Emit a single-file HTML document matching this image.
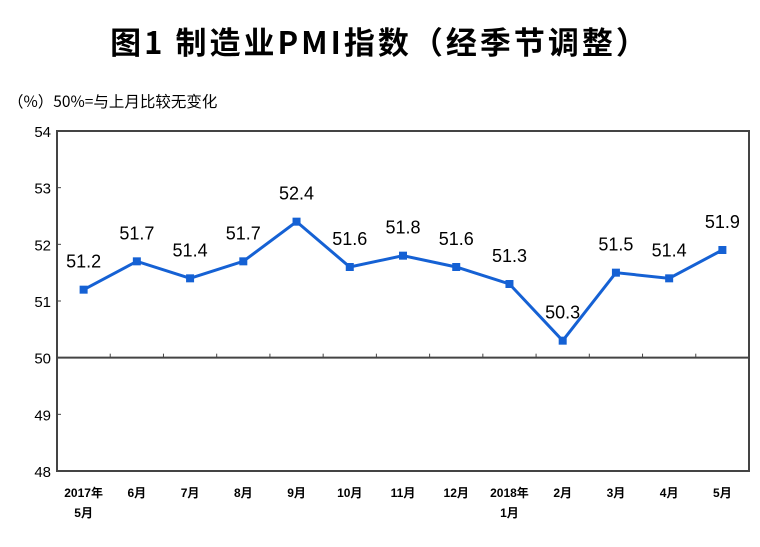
<!DOCTYPE html>
<html><head><meta charset="utf-8"><style>
body{margin:0;background:#fff;}
svg text{font-family:"Liberation Sans","Noto Sans CJK SC",sans-serif;}
</style></head><body>
<svg width="760" height="542">
<text x="380" y="54" text-anchor="middle" font-size="31" font-weight="bold" letter-spacing="3" fill="#000" style="font-family:'Noto Sans CJK SC',sans-serif">图1 制造业PMI指数（经季节调整）</text>
<text x="8" y="107" font-size="15.5" fill="#000" style="font-family:'Noto Sans CJK SC',sans-serif">（%）50%=与上月比较无变化</text>
<g id="axes"></g>
<g id="series"></g>
</svg>
<script>
const categories=["2017年|5月","6月","7月","8月","9月","10月","11月","12月","2018年|1月","2月","3月","4月","5月"];
const values=[51.2,51.7,51.4,51.7,52.4,51.6,51.8,51.6,51.3,50.3,51.5,51.4,51.9];
const yTicks=[48,49,50,51,52,53,54];
const NS="http://www.w3.org/2000/svg";
const L=57,R=749,T=131,B=471,band=(R-L)/categories.length;
const x=i=>L+band*(i+0.5);
const y=v=>T+(54-v)*(B-T)/6;
function mk(tag,attrs,parent){const e=document.createElementNS(NS,tag);for(const k in attrs)e.setAttribute(k,attrs[k]);parent.appendChild(e);return e;}
const ax=document.getElementById('axes'),se=document.getElementById('series');
let f=mk('rect',{x:L,y:T,width:R-L,height:B-T,fill:'none',stroke:'#444','stroke-width':2},ax);


let zl=mk('line',{x1:L,x2:R,y1:y(50),y2:y(50),stroke:'#444','stroke-width':2},ax);


yTicks.forEach(t=>{
 const tl=mk('line',{x1:L,x2:L+4,y1:y(t),y2:y(t),stroke:'#444','stroke-width':1},ax);
 
 
 const tx=mk('text',{x:L-6,y:y(t)+6,'text-anchor':'end','font-size':15,fill:'#000'},ax);
 tx.textContent=t;
 
 
});
categories.forEach((c,i)=>{
 if(i>0){const tk=mk('line',{x1:L+band*i,x2:L+band*i,y1:y(50)-4,y2:y(50),stroke:'#444','stroke-width':1},ax);
 
 }
 c.split('|').forEach((p,j)=>{
  const tx=mk('text',{x:x(i),y:497+j*20,'text-anchor':'middle','font-size':12,'font-weight':'bold',fill:'#000'},ax);
  tx.textContent=p;
  
  
 });
});
const ln=mk('polyline',{points:values.map((v,i)=>x(i)+','+y(v)).join(' '),fill:'none',stroke:'#1561d4','stroke-width':3},se);


values.forEach((v,i)=>{
 const m=mk('rect',{x:x(i)-4,y:y(v)-4,width:8,height:8,fill:'#1561d4'},se);
 
 
 const t=mk('text',{x:x(i),y:y(v)-22,'text-anchor':'middle','font-size':18,fill:'#000'},se);
 t.textContent=v.toFixed(1);
 
 
});
</script>
</body></html>
